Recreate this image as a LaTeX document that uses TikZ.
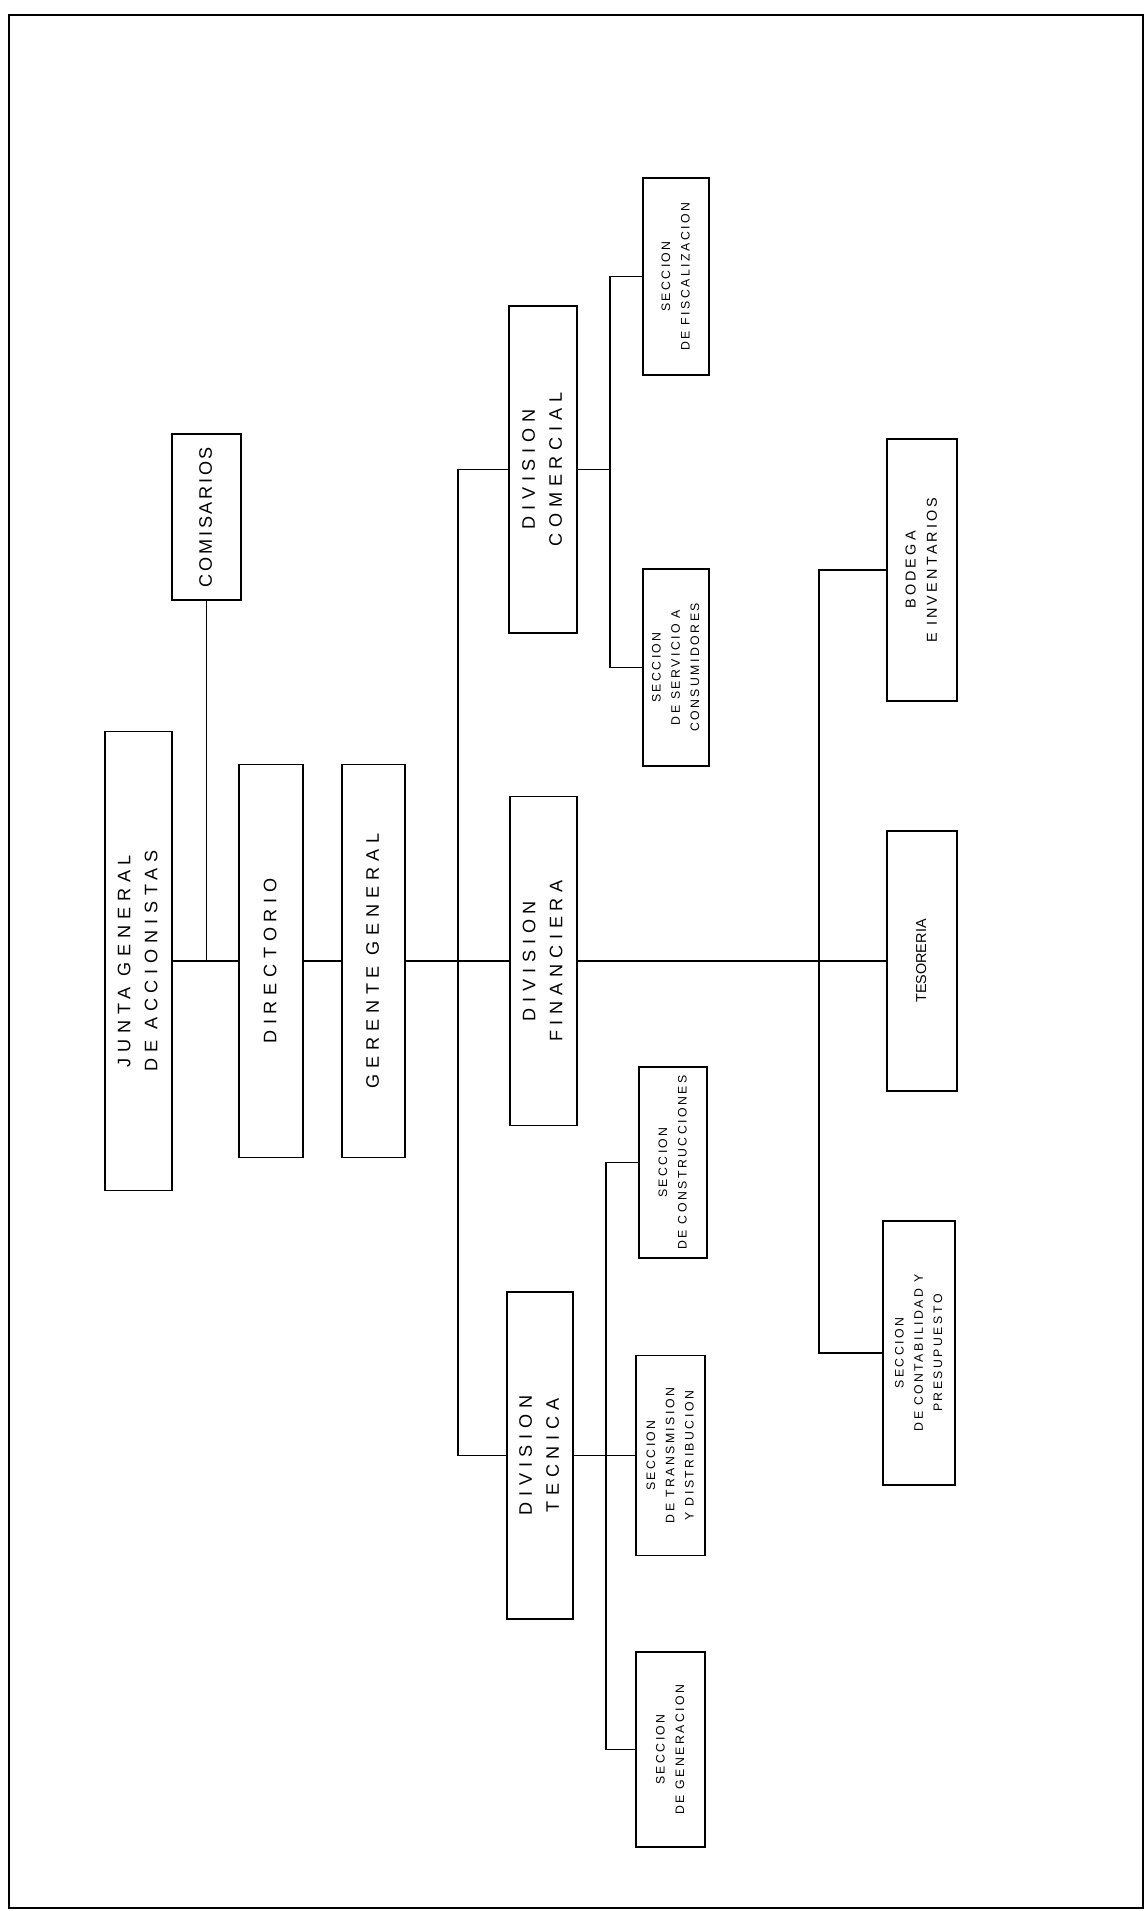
\documentclass[tikz,border=0pt]{standalone}
\usepackage{fontspec}
\newfontfamily\bigfont[LetterSpace=32]{Liberation Sans}
\newfontfamily\namefont[LetterSpace=15]{Liberation Sans}
\newfontfamily\midfont[LetterSpace=22]{Liberation Sans}
\newfontfamily\smallfont[LetterSpace=20]{Liberation Sans}
\usetikzlibrary{calc}
\tikzset{
  orgbox/.style={draw,line width=0.9pt,inner sep=0pt,fill=white},
  big box/.style={orgbox,font=\bigfont\fontsize{10.3}{15.3}\selectfont},
  mid box/.style={orgbox,font=\midfont\fontsize{8.2}{12}\selectfont},
  small box/.style={orgbox,font=\smallfont\fontsize{7}{11}\selectfont},
  link/.style={line width=0.8pt}
}
\newcommand\vlabel[1]{\rotatebox{90}{\begin{tabular}{@{}c@{}}#1\end{tabular}}}

\begin{document}
\begin{tikzpicture}[x=0.02cm,y=-0.02cm]
  \useasboundingbox (0,0) rectangle (1147,1911);
  \draw[line width=1pt] (9,15) rectangle (1143,1908);

  % MAIN AXIS
  \node[big box,minimum width=1.34cm,minimum height=9.18cm] (junta) at (138.5,961)
    {\vlabel{JUNTA GENERAL\\DE ACCIONISTAS}};
  \node[big box,font=\namefont\fontsize{10.3}{15.3}\selectfont,
    minimum width=1.38cm,minimum height=3.32cm] (comisarios) at (206.5,517)
    {\vlabel{COMISARIOS}};
  \node[big box,minimum width=1.28cm,minimum height=7.86cm] (directorio) at (271,961)
    {\vlabel{DIRECTORIO}};
  \node[big box,minimum width=1.26cm,minimum height=7.86cm] (gerente) at (373.5,961)
    {\vlabel{GERENTE GENERAL}};

  % DIVISIONS
  \node[big box,minimum width=1.36cm,minimum height=6.54cm] (comercial) at (543,469.5)
    {\vlabel{DIVISION\\COMERCIAL}};
  \node[big box,minimum width=1.34cm,minimum height=6.58cm] (financiera) at (543.5,961)
    {\vlabel{DIVISION\\FINANCIERA}};
  \node[big box,minimum width=1.32cm,minimum height=6.54cm] (tecnica) at (540,1455.5)
    {\vlabel{DIVISION\\TECNICA}};

  % SECTIONS
  \node[small box,minimum width=1.32cm,minimum height=3.94cm] (fiscalizacion) at (676,276.5)
    {\vlabel{SECCION\\DE FISCALIZACION}};
  \node[small box,minimum width=1.32cm,minimum height=3.94cm] (servicio) at (676,667.5)
    {\vlabel{SECCION\\DE SERVICIO A\\CONSUMIDORES}};
  \node[small box,minimum width=1.36cm,minimum height=3.82cm] (construcciones) at (673,1162.5)
    {\vlabel{SECCION\\DE CONSTRUCCIONES}};
  \node[small box,minimum width=1.38cm,minimum height=4.00cm] (transmision) at (670.5,1455.5)
    {\vlabel{SECCION\\DE TRANSMISION\\Y DISTRIBUCION}};
  \node[small box,minimum width=1.38cm,minimum height=3.90cm] (generacion) at (670.5,1749.5)
    {\vlabel{SECCION\\DE GENERACION}};
  \node[mid box,minimum width=1.40cm,minimum height=5.24cm] (bodega) at (922,570)
    {\vlabel{BODEGA\\E INVENTARIOS}};
  \node[mid box,font=\fontspec{Liberation Sans}\fontsize{8.2}{12}\selectfont,
    minimum width=1.40cm,minimum height=5.20cm] (tesoreria) at (922,961)
    {\vlabel{TESORERIA}};
  \node[small box,minimum width=1.44cm,minimum height=5.28cm] (contabilidad) at (919,1353)
    {\vlabel{SECCION\\DE CONTABILIDAD Y\\PRESUPUESTO}};

  % BUSES
  \coordinate (lbus) at (458,961);
  \coordinate (cbus) at (610,469.5);
  \coordinate (tbus) at (606,1455.5);
  \coordinate (fbus) at (819,961);

  % LINES
  \draw[link] (junta.east) -- (directorio.west);
  \draw[link] (comisarios.south) -- (comisarios.south |- junta.east);
  \draw[link] (directorio.east) -- (gerente.west);
  \draw[link] (gerente.east) -- (financiera.west);
  \draw[link] (financiera.east) -- (tesoreria.west);
  \draw[link] (comercial.west) -| (lbus) |- (tecnica.west);
  \draw[link] (comercial.east) -- (cbus);
  \draw[link] (fiscalizacion.west) -| (cbus) |- (servicio.west);
  \draw[link] (tecnica.east) -- (transmision.west);
  \draw[link] (construcciones.west) -| (tbus) |- (generacion.west);
  \draw[link] (bodega.west) -| (fbus) |- (contabilidad.west);
\end{tikzpicture}
\end{document}
